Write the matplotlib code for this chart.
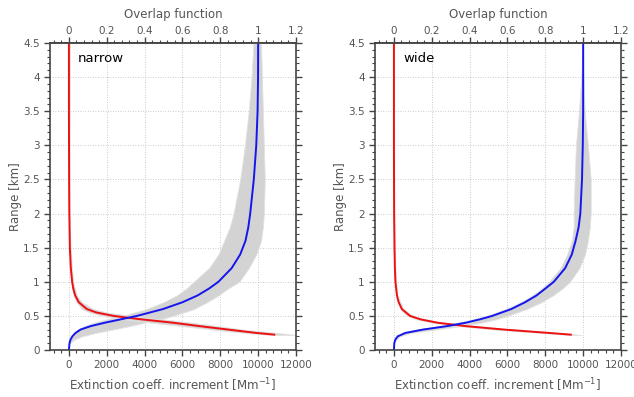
import matplotlib
matplotlib.use('Agg')
import matplotlib.pyplot as plt
from matplotlib.ticker import MultipleLocator, FormatStrFormatter

plt.rcParams['font.family'] = ['DejaVu Sans']

# ---- narrow FOV ----
n_ovl_r = [0, 0.1, 0.15, 0.2, 0.25, 0.3, 0.35, 0.4, 0.45, 0.5, 0.6, 0.7, 0.8, 0.9, 1.0,
           1.2, 1.4, 1.6, 1.8, 2.0, 2.5, 3.0, 3.5, 4.0, 4.5]
n_ovl = [0, 30, 80, 180, 350, 620, 1150, 1900, 2750, 3600, 4970, 6000, 6800, 7400, 7900,
         8600, 9050, 9330, 9480, 9580, 9770, 9900, 9970, 9995, 10000]
n_ovl_env_r = [0.1, 0.15, 0.2, 0.25, 0.3, 0.35, 0.4, 0.45, 0.5, 0.6, 0.7, 0.8, 0.9, 1.0,
               1.2, 1.4, 1.6, 1.8, 2.0, 2.5, 3.0, 3.5, 4.0, 4.5]
n_ovl_lo = [20, 50, 120, 250, 450, 800, 1300, 2000, 2800, 4100, 5000, 5700, 6200, 6600,
            7400, 7900, 8200, 8500, 8700, 9050, 9300, 9500, 9650, 9750]
n_ovl_hi = [60, 250, 700, 1400, 2300, 3200, 4000, 4800, 5500, 6600, 7300, 7900, 8400, 9000,
            9500, 9900, 10150, 10250, 10300, 10350, 10300, 10250, 10200, 10150]

n_ext_r = [0.225, 0.25, 0.3, 0.35, 0.4, 0.45, 0.5, 0.55, 0.6, 0.7, 0.8, 0.9, 1.0, 1.2, 1.5,
           2.0, 2.5, 3.0, 3.5, 4.0, 4.5]
n_ext = [10850, 9900, 8400, 6900, 5500, 3800, 2350, 1450, 950, 520, 330, 230, 170, 100, 50,
         20, 10, 5, 0, 0, 0]
n_ext_env_r = [0.22, 0.25, 0.3, 0.35, 0.4, 0.45, 0.5, 0.55, 0.6, 0.7, 0.8, 1.0, 1.5, 2.0, 3.0, 4.5]
n_ext_lo = [10700, 9300, 7600, 6000, 4400, 2900, 1800, 1100, 700, 400, 250, 130, 40, 10, -30, -60]
n_ext_hi = [12000, 11000, 9200, 7900, 6500, 5000, 3300, 2000, 1300, 680, 420, 220, 80, 40, 40, 60]

# ---- wide FOV ----
w_ovl_r = n_ovl_r
w_ovl = [0, 20, 70, 200, 600, 1550, 2800, 3800, 4550, 5200, 6200, 6930, 7540, 8000, 8450,
         9050, 9400, 9600, 9760, 9850, 9940, 9980, 10000, 10000, 10000]
w_ovl_env_r = [0.15, 0.2, 0.25, 0.3, 0.35, 0.4, 0.45, 0.5, 0.6, 0.7, 0.8, 0.9, 1.0, 1.2, 1.4,
               1.6, 1.8, 2.0, 2.5, 3.0, 3.5, 4.0, 4.5]
w_ovl_lo = [50, 150, 450, 1200, 2400, 3400, 4200, 4900, 5900, 6700, 7300, 7800, 8200, 8800,
            9150, 9400, 9500, 9500, 9550, 9620, 9780, 9900, 10000]
w_ovl_hi = [100, 300, 900, 2200, 3500, 4600, 5400, 6000, 7000, 7800, 8400, 8900, 9300, 9800,
            10100, 10250, 10350, 10400, 10400, 10250, 10080, 10020, 10000]

w_ext_r = [0.225, 0.25, 0.3, 0.35, 0.4, 0.45, 0.5, 0.6, 0.7, 0.8, 1.0, 1.2, 1.5, 2.0, 2.5, 3.0, 4.5]
w_ext = [9350, 8200, 5800, 3800, 2300, 1400, 850, 420, 250, 160, 80, 50, 30, 10, 5, 0, 0]
w_ext_env_r = [0.22, 0.25, 0.3, 0.35, 0.4, 0.45, 0.5, 0.6, 0.8, 1.0, 1.5, 2.0, 4.5]
w_ext_lo = [9300, 7800, 5300, 3400, 2000, 1200, 700, 350, 130, 60, 20, 0, 0]
w_ext_hi = [9900, 8700, 6300, 4300, 2600, 1600, 1000, 500, 180, 100, 40, 20, 0]

panels = [
    ('narrow', n_ovl_r, n_ovl, n_ovl_env_r, n_ovl_lo, n_ovl_hi,
     n_ext_r, n_ext, n_ext_env_r, n_ext_lo, n_ext_hi),
    ('wide', w_ovl_r, w_ovl, w_ovl_env_r, w_ovl_lo, w_ovl_hi,
     w_ext_r, w_ext, w_ext_env_r, w_ext_lo, w_ext_hi),
]

txt_col = '#555555'
fig = plt.figure(figsize=(6.34, 3.97), dpi=100)
lefts = [50 / 634, 375 / 634]

for left, p in zip(lefts, panels):
    name, ovr, ov, ovenv_r, ovlo, ovhi, exr, ex, exenv_r, exlo, exhi = p
    ax = fig.add_axes([left, 47 / 397, 246 / 634, 307 / 397])

    # ensemble spread
    ax.fill_betweenx(ovenv_r, ovlo, ovhi, color='#d3d3d3', lw=0.6, edgecolor='#e2e2e2')
    ax.fill_betweenx(exenv_r, exlo, exhi, color='#d3d3d3', lw=0.6, edgecolor='#e2e2e2')
    # mean curves
    ax.plot(ex, exr, color='#ee1111', lw=1.4)
    ax.plot(ov, ovr, color='#1515ee', lw=1.4)

    ax.set_xlim(-1000, 12000)
    ax.set_ylim(0, 4.5)
    ax.xaxis.set_major_locator(MultipleLocator(2000))
    ax.xaxis.set_minor_locator(MultipleLocator(400))
    ax.yaxis.set_major_locator(MultipleLocator(0.5))
    ax.yaxis.set_minor_locator(MultipleLocator(0.1))
    ax.yaxis.set_major_formatter(FormatStrFormatter('%g'))
    ax.set_axisbelow(True)
    ax.grid(True, which='major', color='#bbbbbb', ls=(0, (1, 2)), lw=0.6)
    ax.tick_params(which='both', direction='out', colors='#444444', labelcolor=txt_col,
                   labelsize=7.5, right=True, top=False)
    ax.tick_params(which='major', length=4, width=1)
    ax.tick_params(which='minor', length=2.5, width=0.8)
    for s in ax.spines.values():
        s.set_color('#444444')
        s.set_linewidth(1.2)

    ax.set_xlabel('Extinction coeff. increment [Mm$^{-1}$]', color=txt_col, fontsize=8.5)
    ax.set_ylabel('Range [km]', color=txt_col, fontsize=8.5, labelpad=1)

    sec = ax.secondary_xaxis('top', functions=(lambda e: e / 10000, lambda o: o * 10000))
    sec.xaxis.set_major_locator(MultipleLocator(0.2))
    sec.xaxis.set_minor_locator(MultipleLocator(0.04))
    sec.xaxis.set_major_formatter(FormatStrFormatter('%g'))
    sec.tick_params(which='both', direction='out', colors='#444444', labelcolor=txt_col,
                    labelsize=7.5, pad=1)
    sec.tick_params(which='major', length=4, width=1)
    sec.tick_params(which='minor', length=2.5, width=0.8)
    sec.spines['top'].set_color('#444444')
    sec.spines['top'].set_linewidth(1.2)
    sec.set_xlabel('Overlap function', color=txt_col, fontsize=8.5, labelpad=6)

    ax.text(0.114, 0.95, name, transform=ax.transAxes, fontsize=9.5, color='black',
            va='center', ha='left')

fig.savefig('out.png', dpi=100)
